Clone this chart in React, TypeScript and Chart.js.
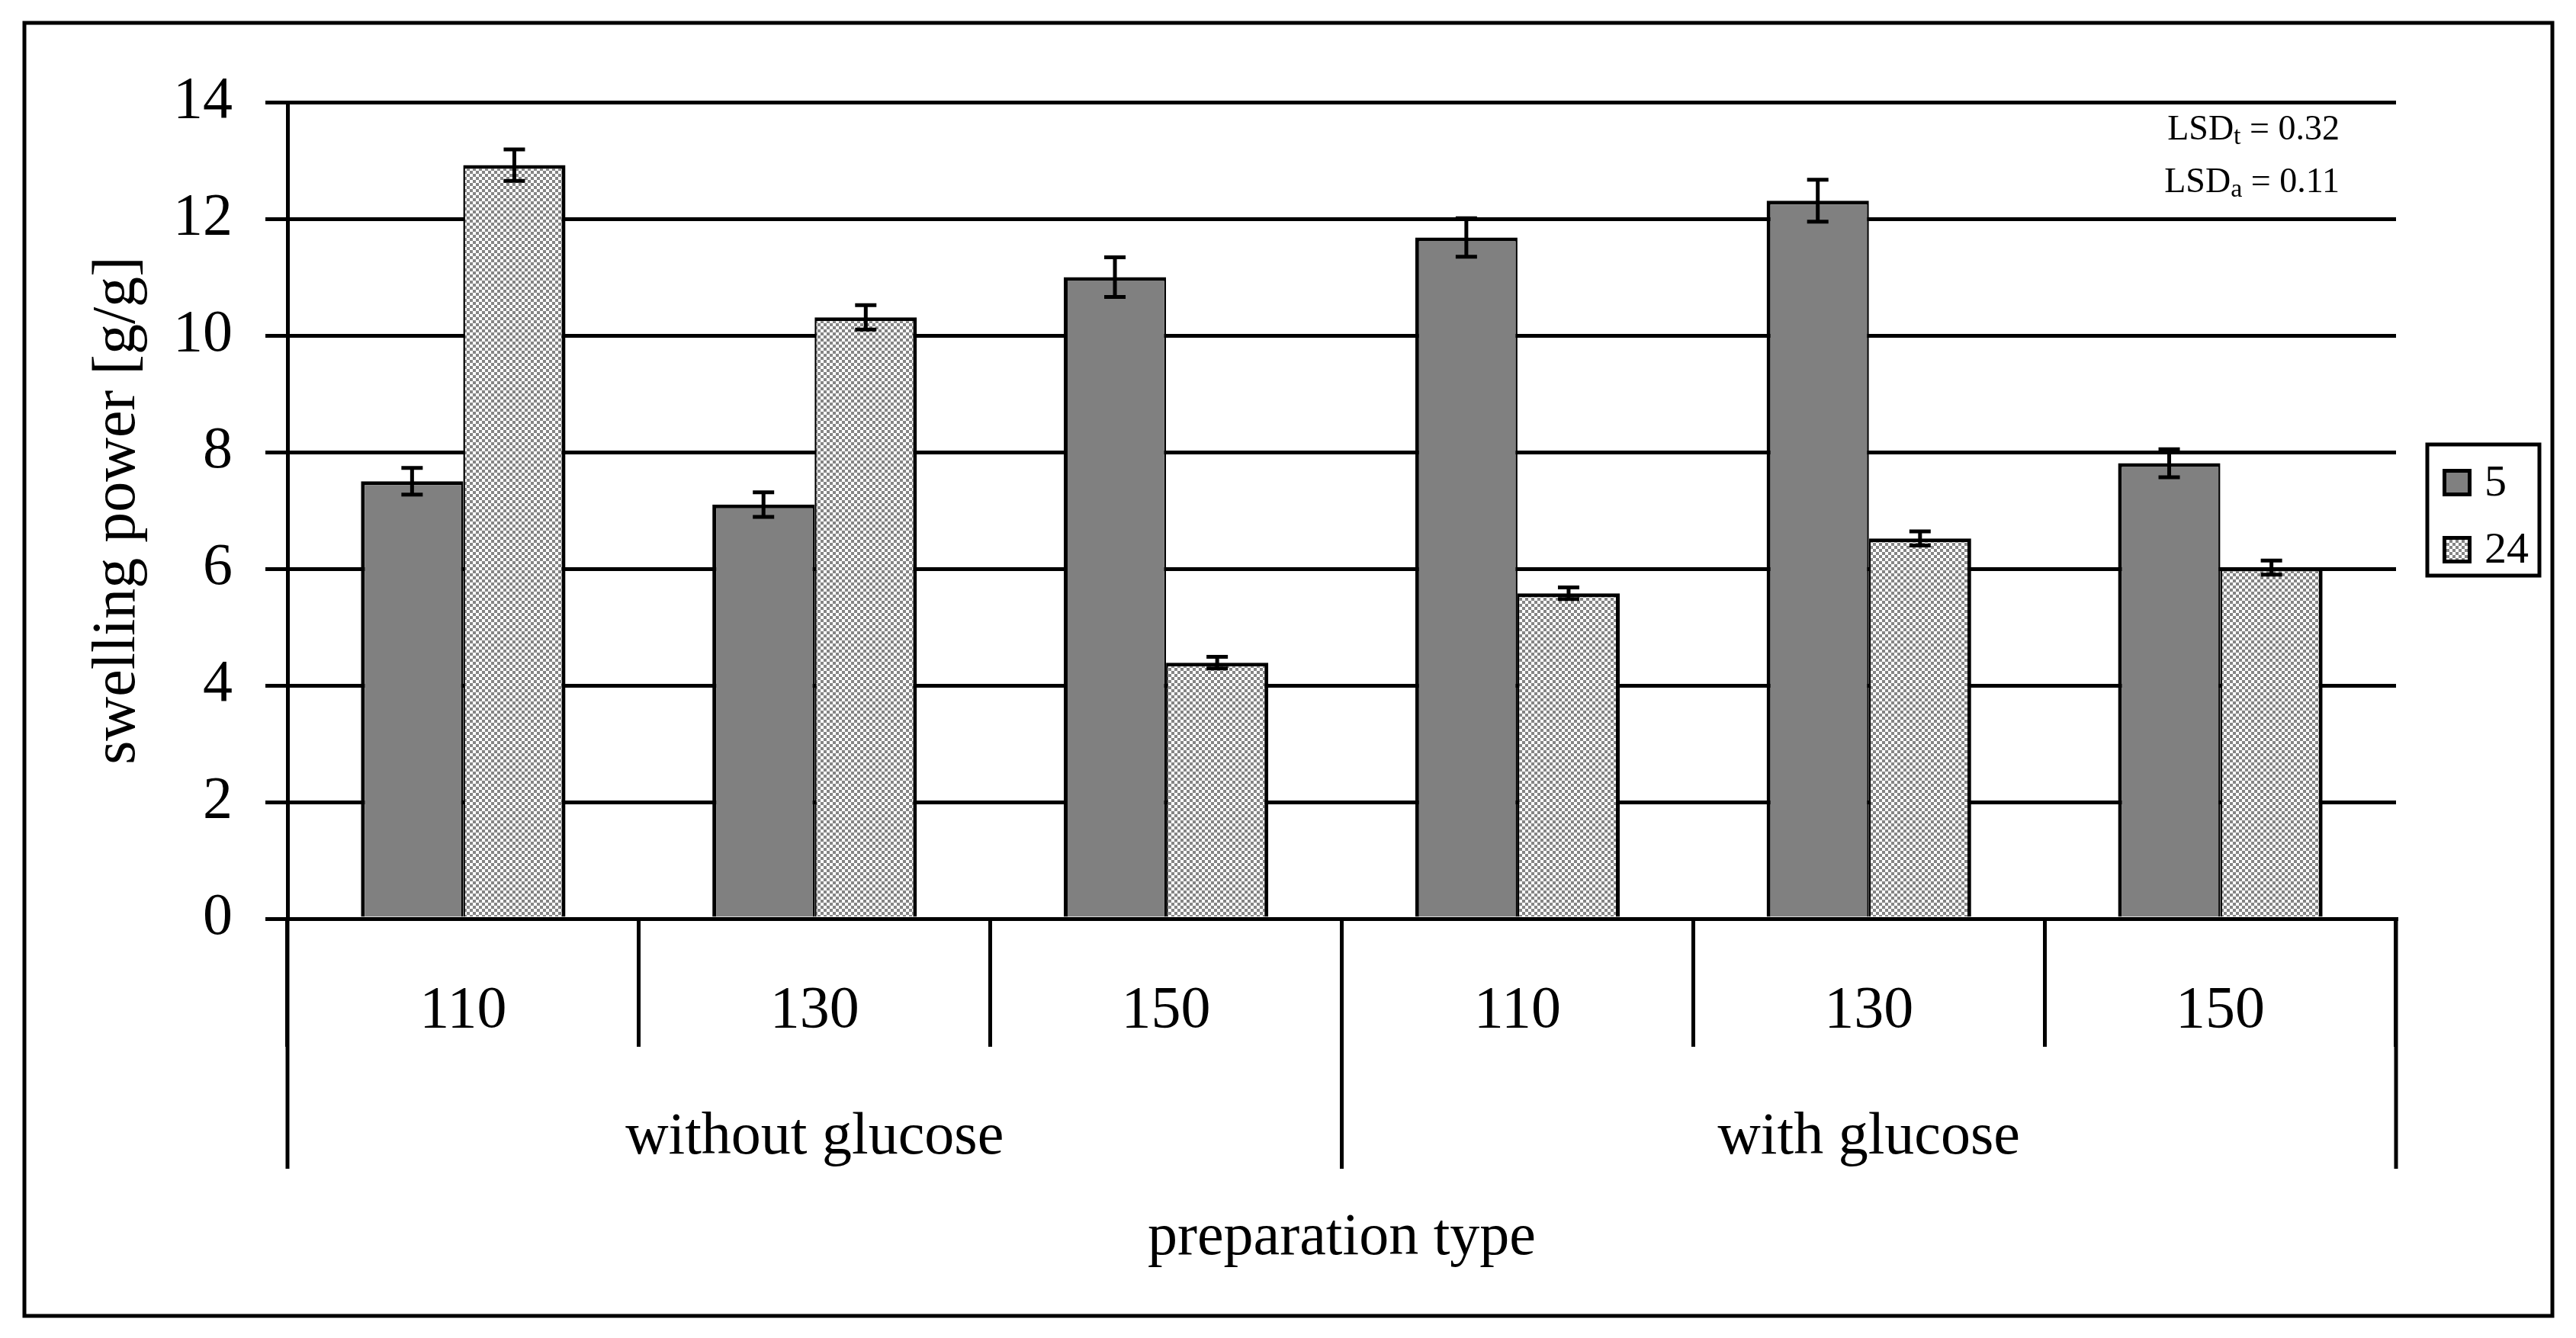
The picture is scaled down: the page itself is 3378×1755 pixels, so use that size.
import React, { useEffect, useRef } from 'react';
import { Chart, registerables } from 'chart.js';

Chart.register(...registerables);

// ---- data ----
const categories = ['110', '130', '150', '110', '130', '150'];
const groups = ['without glucose', 'with glucose'];
const groupSizes = [3, 3];
const seriesNames = ['5', '24'];
const values5 = [7.5, 7.1, 11.0, 11.68, 12.31, 7.81];
const errors5 = [0.23, 0.21, 0.34, 0.33, 0.36, 0.24];
const values24 = [12.92, 10.31, 4.39, 5.58, 6.52, 6.02];
const errors24 = [0.27, 0.21, 0.1, 0.1, 0.12, 0.12];
const yTicks = [0, 2, 4, 6, 8, 10, 12, 14];
const lsdMain = ['LSD', 'LSD'];
const lsdSub = ['t', 'a'];
const lsdRest = [' = 0.32', ' = 0.11'];
const xTitle = 'preparation type';
const yTitle = 'swelling power [g/g]';

const errorArrays = [errors5, errors24];
const FONT = '"Liberation Serif", "Times New Roman", serif';
const LW = 5;

function makePattern(ctx: CanvasRenderingContext2D) {
  const c = document.createElement('canvas');
  c.width = 8;
  c.height = 8;
  const g = c.getContext('2d')!;
  g.fillStyle = '#ffffff';
  g.fillRect(0, 0, 8, 8);
  g.fillStyle = '#858585';
  g.fillRect(0, 0, 4, 4);
  g.fillRect(4, 4, 4, 4);
  return ctx.createPattern(c, 'repeat')!;
}

const decorPlugin = {
  id: 'decor',
  afterDatasetsDraw(chart: any) {
    const ctx = chart.ctx as CanvasRenderingContext2D;
    const y = chart.scales.y;
    ctx.save();
    ctx.strokeStyle = '#000';
    ctx.lineWidth = LW;
    chart.data.datasets.forEach((ds: any, di: number) => {
      const meta = chart.getDatasetMeta(di);
      const errs = errorArrays[di];
      meta.data.forEach((bar: any, i: number) => {
        const v = ds.data[i];
        const e = errs[i];
        const x = bar.x;
        const yt = y.getPixelForValue(v + e);
        const yb = y.getPixelForValue(v - e);
        ctx.beginPath();
        ctx.moveTo(x, yt);
        ctx.lineTo(x, yb);
        ctx.moveTo(x - 14, yt);
        ctx.lineTo(x + 14, yt);
        ctx.moveTo(x - 14, yb);
        ctx.lineTo(x + 14, yb);
        ctx.stroke();
      });
    });
    ctx.restore();
  },
  afterDraw(chart: any) {
    const ctx = chart.ctx as CanvasRenderingContext2D;
    const xs = chart.scales.x;
    const area = chart.chartArea;
    ctx.save();
    ctx.strokeStyle = '#000';
    ctx.fillStyle = '#000';
    ctx.lineWidth = LW;

    // outer frame
    ctx.strokeRect(24, 22, 3315, 1696);

    // group separators and labels
    const sepBottom = 1525;
    let start = 0;
    const bounds: number[] = [area.left];
    groupSizes.forEach((n) => {
      const end = start + n;
      const right = end >= categories.length
        ? area.right
        : (xs.getPixelForValue(end - 1) + xs.getPixelForValue(end)) / 2;
      bounds.push(right);
      start = end;
    });
    ctx.beginPath();
    bounds.forEach((bx) => {
      ctx.moveTo(bx, area.bottom);
      ctx.lineTo(bx, sepBottom);
    });
    ctx.stroke();
    ctx.font = `78px ${FONT}`;
    ctx.textAlign = 'center';
    ctx.textBaseline = 'alphabetic';
    groups.forEach((g, gi) => {
      ctx.fillText(g, (bounds[gi] + bounds[gi + 1]) / 2, 1505);
    });

    // LSD annotations
    const rightX = 3060;
    const baselines = [175, 244];
    lsdMain.forEach((m, i) => {
      ctx.font = `46px ${FONT}`;
      const wm = ctx.measureText(m).width;
      const wr = ctx.measureText(lsdRest[i]).width;
      ctx.font = `34px ${FONT}`;
      const ws = ctx.measureText(lsdSub[i]).width;
      let x = rightX - (wm + ws + wr);
      ctx.textAlign = 'left';
      ctx.font = `46px ${FONT}`;
      ctx.fillText(m, x, baselines[i]);
      x += wm;
      ctx.font = `34px ${FONT}`;
      ctx.fillText(lsdSub[i], x, baselines[i] + 6);
      x += ws;
      ctx.font = `46px ${FONT}`;
      ctx.fillText(lsdRest[i], x, baselines[i]);
    });

    // legend
    ctx.lineWidth = LW;
    ctx.strokeRect(3175, 575, 147, 172);
    const swY = [607, 695];
    const txtY = [642, 730];
    chart.data.datasets.forEach((ds: any, di: number) => {
      ctx.fillStyle = ds.backgroundColor;
      ctx.fillRect(3195, swY[di], 38, 36);
      ctx.strokeStyle = '#000';
      ctx.strokeRect(3197.5, swY[di] + 2.5, 33, 31);
      ctx.fillStyle = '#000';
      ctx.font = `58px ${FONT}`;
      ctx.textAlign = 'left';
      ctx.fillText(ds.label, 3250, txtY[di]);
    });
    ctx.restore();
  },
};

export default function App() {
  const ref = useRef<HTMLCanvasElement>(null);
  useEffect(() => {
    const canvas = ref.current!;
    const ctx = canvas.getContext('2d')!;
    const pattern = makePattern(ctx);
    const chart = new Chart(canvas, {
      type: 'bar',
      data: {
        labels: categories,
        datasets: [
          {
            label: seriesNames[0],
            data: values5,
            backgroundColor: '#808080',
            borderColor: '#000',
            borderWidth: { left: 5, top: 5, right: 2.5, bottom: 0 },
            borderSkipped: false,
          },
          {
            label: seriesNames[1],
            data: values24,
            backgroundColor: pattern as any,
            borderColor: '#000',
            borderWidth: { left: 2.5, top: 5, right: 5, bottom: 0 },
            borderSkipped: false,
          },
        ],
      },
      options: {
        animation: false,
        responsive: true,
        maintainAspectRatio: false,
        layout: { padding: { left: 0, top: 126, right: 228, bottom: 0 } },
        datasets: { bar: { categoryPercentage: 0.582, barPercentage: 1 } },
        plugins: { legend: { display: false }, tooltip: { enabled: false } },
        scales: {
          x: {
            offset: true,
            grid: {
              display: true,
              drawOnChartArea: false,
              drawTicks: true,
              tickLength: 168,
              tickColor: '#000',
              tickWidth: LW,
              color: '#000',
              lineWidth: LW,
              offset: true,
            },
            border: { display: true, color: '#000', width: LW },
            ticks: {
              color: '#000',
              font: { family: FONT, size: 78 },
              padding: -93,
              maxRotation: 0,
              autoSkip: false,
            },
            title: {
              display: true,
              text: xTitle,
              color: '#000',
              font: { family: FONT, size: 78 },
              padding: { top: 0, bottom: 76 },
            },
            afterFit: (s: any) => {
              s.height = 542;
            },
          },
          y: {
            min: yTicks[0],
            max: yTicks[yTicks.length - 1],
            ticks: {
              stepSize: yTicks[1] - yTicks[0],
              color: '#000',
              font: { family: FONT, size: 78 },
              padding: 43,
            },
            grid: {
              color: '#000',
              lineWidth: LW,
              tickLength: 29,
              drawTicks: true,
              tickColor: '#000',
              tickWidth: LW,
            },
            border: { display: true, color: '#000', width: LW },
            title: {
              display: true,
              text: yTitle,
              color: '#000',
              font: { family: FONT, size: 80 },
              padding: { top: 99, bottom: 0 },
            },
            afterFit: (s: any) => {
              s.width = 369;
            },
          },
        },
      } as any,
      plugins: [decorPlugin],
    });
    return () => chart.destroy();
  }, []);
  return (
    <div style={{ width: 3362, height: 1739 }}>
      <canvas ref={ref} />
    </div>
  );
}
